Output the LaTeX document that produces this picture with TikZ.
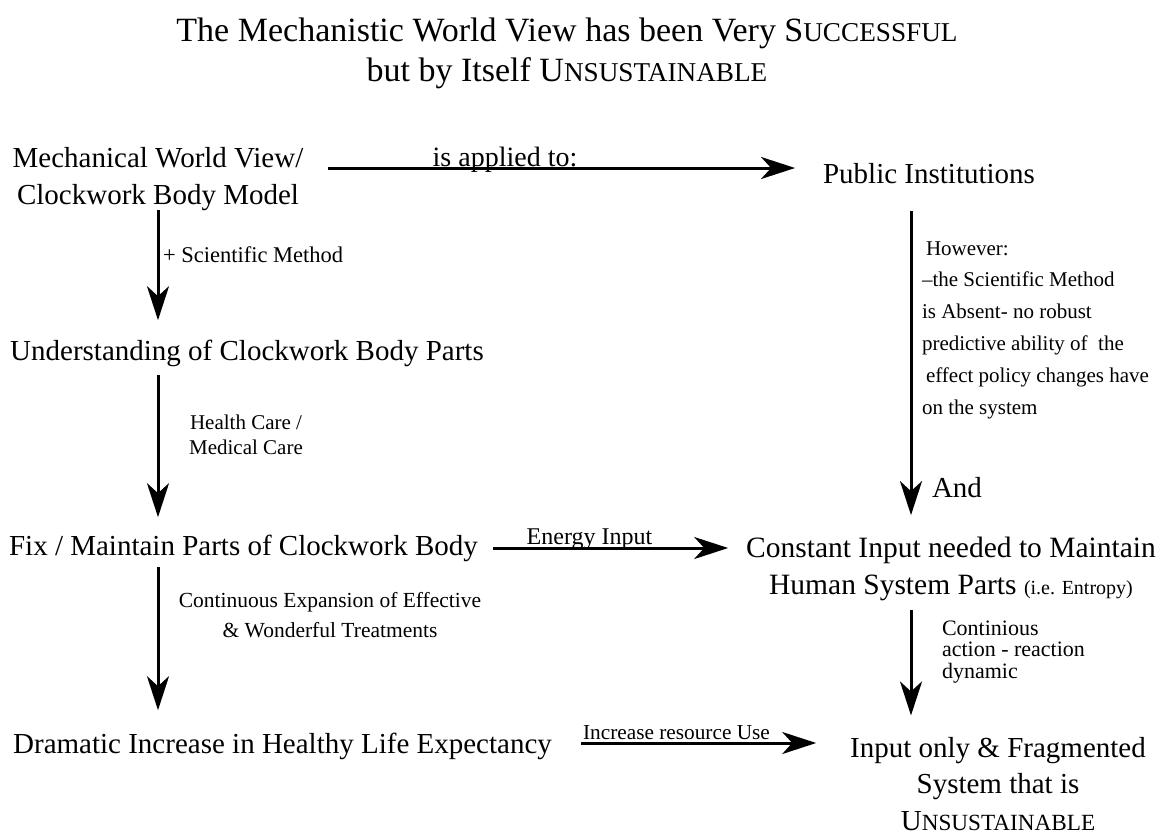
\documentclass[tikz,border=0pt]{standalone}
\usepackage{fontspec}
\setmainfont{Liberation Serif}
\usetikzlibrary{arrows.meta}
\newcommand\fsc[2]{#1\scalebox{0.8}{#2}}
\newcommand\fs[2]{\fontsize{#1}{#2}\selectfont}
\begin{document}
\begin{tikzpicture}[x=1pt,y=-1pt,
  txt/.style={inner sep=0pt, outer sep=0pt, anchor=base},
  arr/.style={line width=3pt, -{Stealth[length=34pt,width=22pt,inset=10pt]}},
]
\useasboundingbox (0,0) rectangle (1166,838);
% title
\node[txt] (title) at (567,41) {\fs{34}{40}\begin{tabular}[t]{@{}c@{}}The Mechanistic World View has been Very \fsc{S}{UCCESSFUL}\\ but by Itself \fsc{U}{NSUSTAINABLE}\end{tabular}};
% main nodes
\node[txt] (A) at (158,167) {\fs{29}{37}\begin{tabular}[t]{@{}c@{}}Mechanical World View/\\Clockwork Body Model\end{tabular}};
\node[txt] (B) at (929,183) {\fs{29}{44}\begin{tabular}[t]{@{}c@{}}Public Institutions\end{tabular}};
\node[txt] (C) at (247,360) {\fs{29}{44}\begin{tabular}[t]{@{}c@{}}Understanding of Clockwork Body Parts\end{tabular}};
\node[txt] (D) at (243.5,555) {\fs{29}{44}\begin{tabular}[t]{@{}c@{}}Fix / Maintain Parts of Clockwork Body\end{tabular}};
\node[txt] (E) at (951,557) {\fs{29.5}{37}\begin{tabular}[t]{@{}c@{}}Constant Input needed to Maintain\\Human System Parts {\fs{20}{20}(i.e. Entropy)}\end{tabular}};
\node[txt] (G) at (282.5,753) {\fs{29}{44}\begin{tabular}[t]{@{}c@{}}Dramatic Increase in Healthy Life Expectancy\end{tabular}};
\node[txt] (F) at (998,757) {\fs{29}{36.5}\begin{tabular}[t]{@{}c@{}}Input only \& Fragmented\\System that is\\\fsc{U}{NSUSTAINABLE}\end{tabular}};
% connectors
\draw[arr, shorten <=25pt, shorten >=28pt] ([yshift=10.1pt]A.east) -- ([yshift=10.1pt]A.east -| B.west);
\draw[arr, shorten <=-5pt, shorten >=9pt] (A.south) -- (A.south |- C.north);
\draw[arr, shorten <=2pt, shorten >=7pt] (A.south |- C.south) -- (A.south |- D.north);
\draw[arr, shorten <=-1pt, shorten >=12pt] (A.south |- D.south) -- (A.south |- G.north);
\draw[arr, shorten <=15pt, shorten >=18pt] ([yshift=-1.8pt]D.east) -- ([yshift=-1.8pt]D.east -| E.west);
\draw[arr, shorten <=15pt, shorten >=16pt] ([xshift=-18pt]B.south) -- ([xshift=-18pt]B.south |- E.north);
\draw[arr, shorten <=5pt, shorten >=16pt] ([xshift=-18pt]B.south |- E.south) -- ([xshift=-18pt]B.south |- F.north);
\draw[arr, shorten <=29pt, shorten >=34pt] ([yshift=1.2pt]G.east) -- ([yshift=1.2pt]G.east -| F.west);
% labels
\node[txt] (lab1) at (505,166) {\fs{28}{28}is applied to:};
\node[txt, anchor=base west] (lab2) at (163,262) {\fs{22.5}{22.5}+ Scientific Method};
\node[txt] (lab3) at (246,429) {\fs{21}{25}\begin{tabular}[t]{@{}c@{}}Health Care /\\Medical Care\end{tabular}};
\node[txt] (lab4) at (330,607) {\fs{21.5}{30}\begin{tabular}[t]{@{}c@{}}Continuous Expansion of Effective\\\& Wonderful Treatments\end{tabular}};
\node[txt] (lab5) at (589.5,544) {\fs{24}{24}Energy Input};
\node[txt, anchor=base west] (lab6) at (922,255) {\fs{21}{31.8}\begin{tabular}[t]{@{}l@{}}\hspace{4pt}However:\\–the Scientific Method\\is Absent- no robust\\predictive ability of\ \ the\\\hspace{4pt}effect policy changes have\\on the system\end{tabular}};
\node[txt, anchor=base west] (lab7) at (932,497) {\fs{29}{29}And};
\node[txt, anchor=base west] (lab8) at (942,635) {\fs{22}{21.5}\begin{tabular}[t]{@{}l@{}}Continious\\action - reaction\\dynamic\end{tabular}};
\node[txt] (lab9) at (676.5,739) {\fs{21.3}{21.3}Increase resource Use};
\end{tikzpicture}
\end{document}
